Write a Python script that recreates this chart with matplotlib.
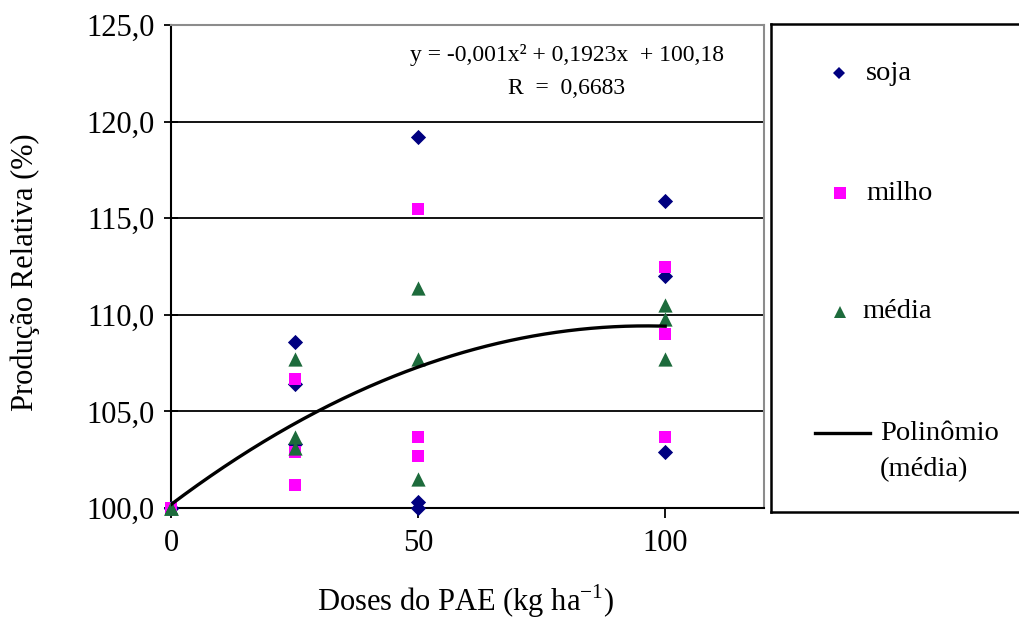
import numpy as np
import matplotlib
matplotlib.use("Agg")
import matplotlib.pyplot as plt
from matplotlib.lines import Line2D

plt.rcParams['font.family'] = ['Liberation Serif', 'DejaVu Serif']
plt.rcParams['mathtext.fontset'] = 'custom'
plt.rcParams['mathtext.rm'] = 'Liberation Serif'

# Doses of PAE (kg/ha) and relative yield (%) for each replicate
doses = [0, 0, 0, 25, 25, 25, 50, 50, 50, 100, 100, 100]
soja = [100.0, 100.0, 100.0, 108.6, 106.4, 103.3, 119.2, 100.0, 100.3, 115.9, 112.0, 102.9]
milho = [100.0, 100.0, 100.0, 106.7, 101.2, 102.9, 103.7, 115.5, 102.7, 103.7, 109.0, 112.5]
media = [100.0, 100.0, 100.0, 107.7, 103.7, 103.1, 111.4, 107.7, 101.5, 109.8, 110.5, 107.7]

# Quadratic trendline fitted to the mean
poly_coef = [-0.001, 0.1923, 100.18]
eq_text = "y = -0,001x² + 0,1923x  + 100,18"
r_text = "R  =  0,6683"

x_ticks = [0, 50, 100]
y_ticks = [100, 105, 110, 115, 120, 125]

W, H = 1020, 617
fig = plt.figure(figsize=(W / 100, H / 100), dpi=100)

# main plotting area
L, R, T, B = 171, 764, 25, 508
ax = fig.add_axes([L / W, 1 - B / H, (R - L) / W, (B - T) / H])
ax.set_xlim(0, 120)
ax.set_ylim(100, 125)

c_soja = '#000080'
c_milho = '#ff00ff'
c_media = '#1d6b3c'

ax.scatter(doses, soja, marker='D', s=60, color=c_soja, zorder=3, clip_on=False, linewidths=0)
ax.scatter(doses, milho, marker='s', s=85, color=c_milho, zorder=4, clip_on=False, linewidths=0)
ax.scatter(doses, media, marker='^', s=105, color=c_media, zorder=5, clip_on=False, linewidths=0)

xx = np.linspace(0, 100, 300)
ax.plot(xx, np.polyval(poly_coef, xx), color='black', lw=2.4, zorder=6)

for yv in y_ticks[1:-1]:
    ax.axhline(yv, color='black', lw=1.3, zorder=1)

ax.set_xticks(x_ticks)
ax.set_xticklabels([str(v) for v in x_ticks])
ax.set_yticks(y_ticks)
ax.set_yticklabels([f"{v:.1f}".replace('.', ',') for v in y_ticks])
ax.tick_params(axis='y', direction='inout', length=10, width=1.3, pad=7, labelsize=22)
ax.tick_params(axis='x', direction='out', length=7, width=1.3, pad=8, labelsize=22)

for side in ('left', 'bottom'):
    ax.spines[side].set_color('black')
    ax.spines[side].set_linewidth(1.5)
for side in ('top', 'right'):
    ax.spines[side].set_color('#8c8c8c')
    ax.spines[side].set_linewidth(1.5)

fig.text(466 / W, 1 - 601 / H, r"Doses do PAE (kg ha$^{\mathregular{-1}}$)",
         ha='center', va='center', fontsize=22)
fig.text(25 / W, 1 - 272 / H, "Produção Relativa (%)", rotation=90,
         ha='center', va='center', fontsize=22)

fig.text(567 / W, 1 - 55 / H, eq_text, ha='center', va='center', fontsize=17)
fig.text(567 / W, 1 - 88 / H, r_text, ha='center', va='center', fontsize=17)

# legend panel
lg = fig.add_axes([771 / W, 1 - 512 / H, 262 / W, 488 / H])
lg.set_xlim(771, 1033)
lg.set_ylim(512, 24)
lg.set_xticks([])
lg.set_yticks([])
for s in lg.spines.values():
    s.set_color('black')
    s.set_linewidth(1.8)

lg.add_line(Line2D([839], [73], marker='D', ms=6.5, color=c_soja, mew=0))
lg.text(866, 73, "soja", fontsize=20.5, va='center', ha='left')
lg.add_line(Line2D([840], [193], marker='s', ms=8, color=c_milho, mew=0))
lg.text(866, 193, "milho", fontsize=20.5, va='center', ha='left')
lg.add_line(Line2D([840], [312], marker='^', ms=8, color=c_media, mew=0))
lg.text(862, 312, "média", fontsize=20.5, va='center', ha='left')
lg.add_line(Line2D([815, 870], [433, 433], color='black', lw=2.4))
lg.text(880, 433, "Polinômio", fontsize=20.5, va='center', ha='left')
lg.text(880, 470, "(média)", fontsize=20.5, va='center', ha='left')

fig.savefig("out.png", dpi=100)
